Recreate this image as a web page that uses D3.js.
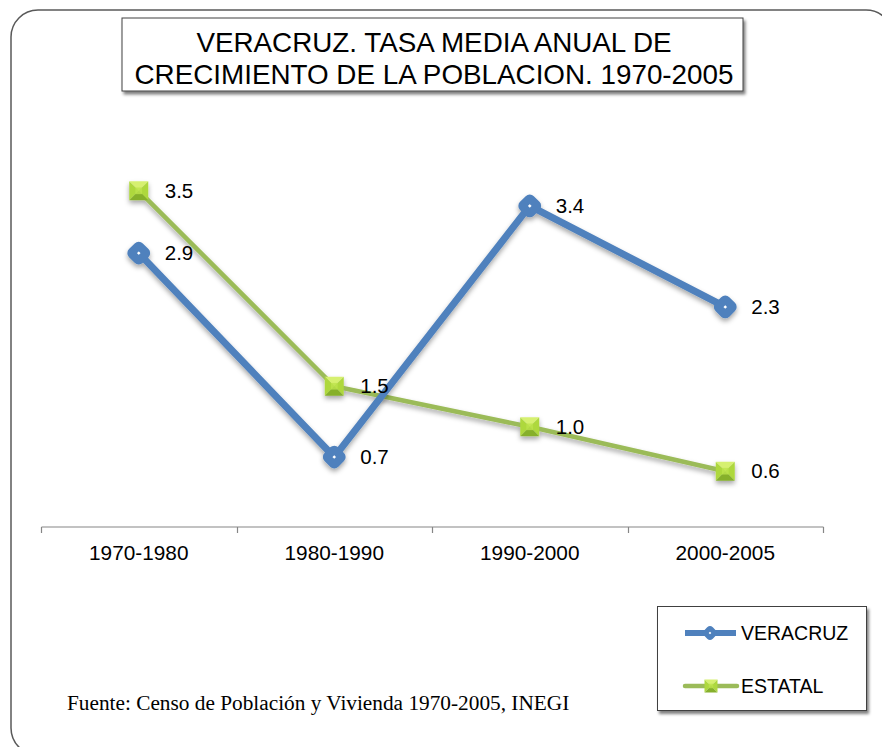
<!DOCTYPE html>
<html>
<head>
<meta charset="utf-8">
<script src="https://cdn.jsdelivr.net/npm/d3@7"></script>
<style>
  body { margin: 0; background: #fff; }
  svg { display: block; font-family: "Liberation Sans", Arial, sans-serif; }
</style>
</head>
<body>
<div id="chart"></div>
<script>
// Tasa media anual de crecimiento, Veracruz
const periods = ['1970-1980', '1980-1990', '1990-2000', '2000-2005'];
const veracruz = [2.88, 0.72, 3.38, 2.31];
const estatal = [3.54, 1.47, 1.04, 0.57];
const seriesNames = ['VERACRUZ', 'ESTATAL'];
const titleLines = ['VERACRUZ. TASA MEDIA ANUAL DE', 'CRECIMIENTO DE LA POBLACION. 1970-2005'];
const source = 'Fuente: Censo de Población y Vivienda 1970-2005, INEGI';

const width = 882, height = 747;
const blue = '#4f81bd', green = '#9bbb59';

const svg = d3.select('#chart').append('svg')
    .attr('width', width)
    .attr('height', height);

const defs = svg.append('defs');
const shadow = defs.append('filter').attr('id', 'shadow')
    .attr('x', '-20%').attr('y', '-20%').attr('width', '140%').attr('height', '160%');
shadow.append('feDropShadow')
    .attr('dx', 0).attr('dy', 3).attr('stdDeviation', 2.5)
    .attr('flood-color', '#000').attr('flood-opacity', 0.35);

const boxShadow = defs.append('filter').attr('id', 'boxShadow')
    .attr('x', '-5%').attr('y', '-20%').attr('width', '110%').attr('height', '150%');
boxShadow.append('feDropShadow')
    .attr('dx', 2).attr('dy', 3).attr('stdDeviation', 1.5)
    .attr('flood-color', '#000').attr('flood-opacity', 0.5);

// green marker facet colours
const gLight = '#d6f070', gMid = '#aed83e', gDark = '#86b02c';

// outer rounded frame
svg.append('rect')
    .attr('x', 11).attr('y', 10)
    .attr('width', 882).attr('height', 745)
    .attr('rx', 27).attr('ry', 27)
    .attr('fill', '#fff')
    .attr('stroke', '#595959')
    .attr('stroke-width', 1.5);

// title box
svg.append('rect')
    .attr('x', 122).attr('y', 18)
    .attr('width', 621).attr('height', 73)
    .attr('fill', '#fff')
    .attr('stroke', '#404040')
    .attr('stroke-width', 1)
    .attr('filter', 'url(#boxShadow)');

svg.append('g').selectAll('text')
    .data(titleLines)
    .join('text')
    .attr('x', 434)
    .attr('y', (d, i) => 52 + i * 32)
    .attr('text-anchor', 'middle')
    .attr('font-size', 27.8)
    .attr('fill', '#000')
    .text(d => d);

// scales
const x = d3.scaleBand()
    .domain(periods)
    .range([41, 823]);

const y = d3.scaleLinear()
    .domain([0, 4])
    .range([525, 147.4]);

// x axis
const axis = svg.append('g')
    .attr('transform', 'translate(0, 527)')
    .call(d3.axisBottom(x).tickSize(0).tickPadding(0));
axis.select('.domain').attr('stroke', '#868686').attr('stroke-width', 1.2).attr('d', 'M41.5,0H823.5');
axis.selectAll('.tick text')
    .attr('font-size', 20.8)
    .attr('font-family', '"Liberation Sans", Arial, sans-serif')
    .attr('fill', '#000')
    .attr('dy', 0)
    .attr('y', 33);
// tick marks at band boundaries
const bounds = periods.map(p => x(p)).concat([x(periods[periods.length - 1]) + x.bandwidth()]);
axis.append('g').selectAll('line')
    .data(bounds)
    .join('line')
    .attr('x1', d => Math.round(d) + 0.5)
    .attr('x2', d => Math.round(d) + 0.5)
    .attr('y1', 0).attr('y2', 6)
    .attr('stroke', '#868686')
    .attr('stroke-width', 1.2);

const cx = p => x(p) + x.bandwidth() / 2;

const line = d3.line()
    .x((d, i) => cx(periods[i]))
    .y(d => y(d));

const plot = svg.append('g');

function drawGreenMarker(g, px, py, s) {
    const h = s / 2;
    const m = g.append('g').attr('transform', `translate(${px},${py})`);
    // four triangular facets for pyramid look
    m.append('path').attr('d', `M${-h},${-h}L${h},${-h}L0,0Z`).attr('fill', gLight);
    m.append('path').attr('d', `M${-h},${-h}L${-h},${h}L0,0Z`).attr('fill', gMid);
    m.append('path').attr('d', `M${h},${-h}L${h},${h}L0,0Z`).attr('fill', gMid);
    m.append('path').attr('d', `M${-h},${h}L${h},${h}L0,0Z`).attr('fill', gDark);
    m.append('rect').attr('x', -h * 0.35).attr('y', -h * 0.35)
        .attr('width', h * 0.7).attr('height', h * 0.7)
        .attr('fill', '#bde34c').attr('opacity', 0.8);
}

function drawBlueMarker(g, px, py, s, sw) {
    const m = g.append('g').attr('transform', `translate(${px},${py}) rotate(45)`);
    m.append('rect')
        .attr('x', -s / 2).attr('y', -s / 2)
        .attr('width', s).attr('height', s)
        .attr('rx', 1.5)
        .attr('fill', '#fff')
        .attr('stroke', blue)
        .attr('stroke-width', sw)
        .attr('stroke-linejoin', 'round');
}

// green (ESTATAL) under blue
const greenG = plot.append('g').attr('filter', 'url(#shadow)');
greenG.append('path')
    .datum(estatal)
    .attr('d', line)
    .attr('fill', 'none')
    .attr('stroke', green)
    .attr('stroke-width', 4.5)
    .attr('stroke-linejoin', 'round');
estatal.forEach((v, i) => drawGreenMarker(greenG, cx(periods[i]), y(v), 19));

const blueG = plot.append('g').attr('filter', 'url(#shadow)');
blueG.append('path')
    .datum(veracruz)
    .attr('d', line)
    .attr('fill', 'none')
    .attr('stroke', blue)
    .attr('stroke-width', 7)
    .attr('stroke-linejoin', 'round');
veracruz.forEach((v, i) => drawBlueMarker(blueG, cx(periods[i]), y(v), 11, 8.5));

// data labels
const labels = svg.append('g')
    .attr('font-size', 20.5)
    .attr('fill', '#000');
[veracruz, estatal].forEach(series => {
    series.forEach((v, i) => {
        labels.append('text')
            .attr('x', cx(periods[i]) + 26)
            .attr('y', y(v))
            .attr('dy', '0.35em')
            .text(v.toFixed(1));
    });
});

// legend
const legend = svg.append('g');
legend.append('rect')
    .attr('x', 657.5).attr('y', 606.5)
    .attr('width', 209).attr('height', 104)
    .attr('fill', '#fff')
    .attr('stroke', '#404040')
    .attr('stroke-width', 1)
    .attr('filter', 'url(#boxShadow)');

const legY = [633, 686];
legend.append('line')
    .attr('x1', 685).attr('x2', 736).attr('y1', legY[0]).attr('y2', legY[0])
    .attr('stroke', blue).attr('stroke-width', 6);
drawBlueMarker(legend, 710, legY[0], 7, 5);
legend.append('line')
    .attr('x1', 685).attr('x2', 737).attr('y1', legY[1]).attr('y2', legY[1])
    .attr('stroke', green).attr('stroke-width', 4.5)
    .attr('stroke-linecap', 'round');
drawGreenMarker(legend, 711, legY[1], 13);

legend.selectAll('text.leg')
    .data(seriesNames)
    .join('text')
    .attr('class', 'leg')
    .attr('x', 741)
    .attr('y', (d, i) => legY[i])
    .attr('dy', '0.36em')
    .attr('font-size', 19.5)
    .attr('fill', '#000')
    .text(d => d);

// source note
svg.append('text')
    .attr('x', 67).attr('y', 710)
    .attr('font-family', '"Liberation Serif", "Times New Roman", serif')
    .attr('font-size', 21.3)
    .attr('fill', '#000')
    .text(source);
</script>
</body>
</html>
